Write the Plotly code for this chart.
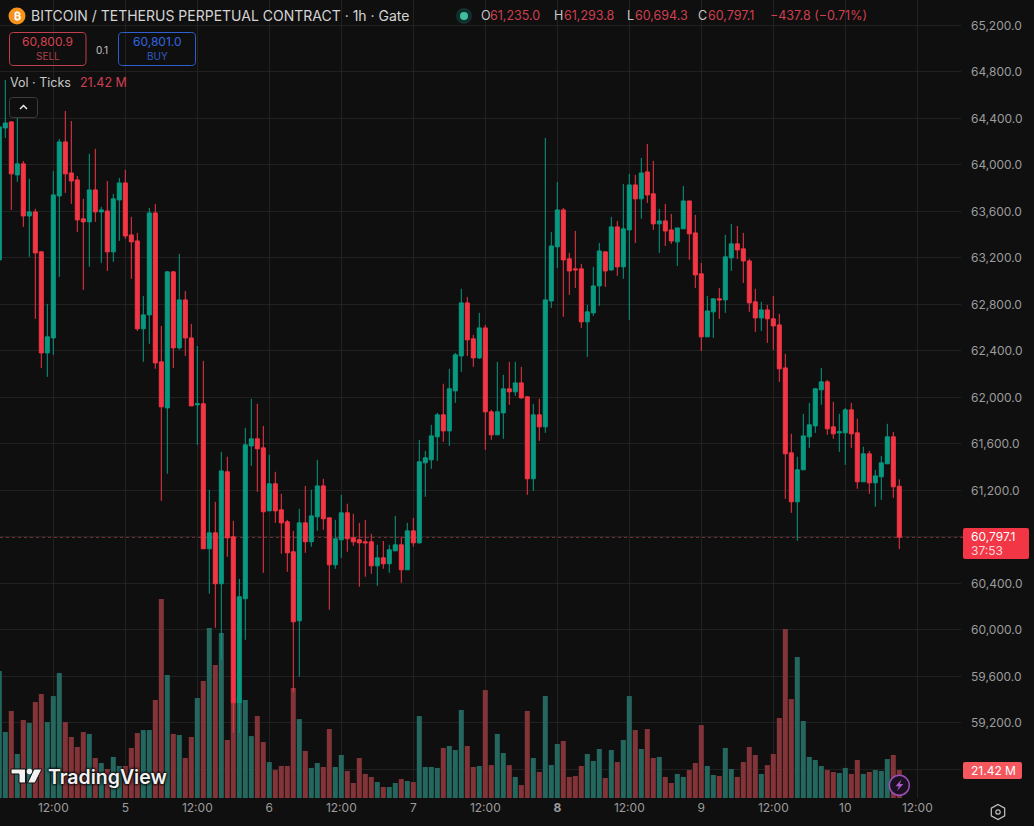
import pandas as pd
import plotly.graph_objects as go

# BTC/USDT perpetual, hourly candles
opens = [63182,64317,64369,63913,64008,63560,63595,63251,62382,62511,63732,64197,63930,63870,63535,63509,63784,63595,63603,63251,
         63698,63844,63397,63345,62589,62709,63586,62305,61909,63079,62425,62838,62511,61935,61944,60697,60834,60396,61359,60800,
         59372,60267,61582,61643,61565,61023,61256,61032,60929,60671,60077,60920,60757,60972,61238,60963,60559,60774,61006,60791,
         60774,60757,60757,60550,60619,60568,60679,60731,60516,60851,60748,61436,61462,61660,61849,61711,62055,62356,62812,62503,
         62339,62597,61875,61677,61866,62073,62047,62124,62004,61299,61849,61746,62829,63294,63612,63191,63105,63105,62649,62726,
         62958,63251,63096,63466,63122,63440,63827,63707,63939,63750,63492,63517,63440,63337,63449,63689,63414,63062,62520,62735,
         62847,62838,63199,63320,63277,63173,62821,62683,62752,62675,62623,62253,61522,61101,61376,61660,61754,62064,62133,61746,
         61694,61694,61892,61694,61273,61514,61264,61316,61428,61660,61235]
highs = [64343,64730,64377,64446,64033,63879,63621,63259,62804,63947,64223,64463,64377,63904,63707,64094,64137,63638,63861,63750,
         63887,63956,63552,63414,62872,63629,63664,62614,63087,63087,63234,62915,62632,62442,62313,61204,61101,61531,61488,60937,
         60439,61737,61987,61944,61754,61505,61359,61170,60946,60851,61041,61238,61204,61462,61299,60963,60946,61161,61084,60998,
         60920,60946,60826,60731,60765,60731,60980,60800,60920,60963,61634,61539,61763,61866,62116,62245,62382,62933,62864,62537,
         62726,62623,61892,62305,62193,62305,62305,62262,62012,61944,61987,64231,63423,63853,63629,63242,63431,63148,62795,63122,
         63328,63251,63552,63517,63836,63922,63913,64059,64180,64033,63621,63664,63578,63457,63818,63689,63569,63156,62872,62847,
         62941,63397,63492,63474,63414,63191,62933,62821,62795,62872,62718,62374,61686,61488,61858,61952,62081,62253,62150,61961,
         61858,61909,61952,61815,61574,61539,61376,61496,61772,61703,61293.8]
lows = [63182,64231,63612,63853,63466,63208,62675,62253,62176,62365,63036,63758,63664,63423,62924,63122,63509,63156,63087,63165,
        63345,63363,63019,62571,62305,62460,62245,61109,61342,62253,62408,62356,61926,61591,60697,60310,60017,59742,60628,59114,
        59114,59914,61410,61187,60490,61023,60920,60654,60499,59467,59596,60662,60714,60851,60860,60172,60525,60619,60671,60722,
        60370,60456,60482,60378,60525,60490,60679,60404,60516,60714,60740,61144,61385,61453,61617,61582,61952,62219,62356,62262,
        62331,61548,61634,61677,61643,61935,62012,61987,61161,61195,61625,61694,62769,63113,62692,62881,62941,62597,62348,62700,
        62786,62950,63087,63044,63019,62666,63328,63535,63672,63440,63242,63302,63320,63130,63449,63182,62941,62399,62520,62511,
        62675,62726,63087,63191,62984,62735,62563,62571,62468,62408,62133,61127,61006,60765,61376,61565,61694,61935,61677,61643,
        61531,61419,61565,61213,61273,61170,61058,61118,61428,61135,60694.3]
closes = [64326,64360,63922,64008,63560,63595,63242,62382,62520,63741,64197,63922,63861,63526,63509,63784,63595,63612,63251,63707,
          63844,63388,63337,62589,62709,63586,62296,61918,63079,62425,62838,62511,61926,61944,60697,60834,60396,61367,60791,59372,
          60284,61591,61643,61557,61015,61256,61023,60920,60662,60069,60920,60757,60980,61238,60955,60559,60783,61006,60783,60757,
          60748,60748,60550,60619,60568,60688,60731,60516,60851,60748,61445,61479,61668,61849,61711,62073,62365,62812,62494,62339,
          62597,61875,61677,61875,62073,62047,62124,61995,61299,61849,61746,62838,63302,63612,63182,63087,63096,62649,62735,62958,
          63259,63087,63466,63122,63449,63827,63707,63930,63741,63492,63517,63431,63345,63457,63689,63406,63053,62520,62743,62847,
          62838,63208,63320,63268,63173,62812,62683,62752,62675,62614,62245,61514,61101,61376,61668,61763,62073,62133,61729,61686,
          61703,61892,61686,61273,61514,61264,61324,61436,61660,61230,60797.1]
volumes_m = [97.2,50.5,66.6,33.7,59.7,57.4,73.4,79.6,58.1,78.0,95.6,58.1,46.7,39.0,50.5,49.0,30.6,26.8,22.2,31.4,
             24.5,24.5,38.3,49.7,52.0,52.0,75.0,152.2,94.1,49.0,48.2,30.6,46.7,76.5,89.5,130.1,101.7,126.2,44.4,72.7,
             76.5,75.0,47.4,62.7,42.8,27.5,21.4,24.5,24.5,84.2,60.4,36.0,23.0,26.8,23.7,52.8,23.7,
             32.9,20.7,11.5,30.6,18.4,16.1,12.2,8.4,8.4,11.5,14.5,13.0,12.2,62.7,23.7,23.7,23.0,38.3,39.8,36.7,67.3,39.8,23.7,24.5,
             82.6,25.2,49.0,34.4,25.2,16.1,9.9,66.6,30.6,19.9,78.0,25.2,41.3,43.6,16.1,16.8,24.5,33.7,28.3,37.5,15.3,36.7,27.5,44.4,
             78.0,52.0,37.5,52.8,30.6,31.4,16.1,11.5,18.4,
             16.1,21.4,26.8,55.8,24.5,17.6,16.8,38.3,22.2,16.1,27.5,39.0,32.9,18.4,25.2,33.7,61.2,129.3,75.7,107.9,58.9,31.4,29.1,
             24.5,21.4,19.9,19.1,23.0,18.4,29.1,18.4,19.9,21.4,20.7,29.8,32.9,21.42]

time_ticks = ["2024-10-04 12:00", "2024-10-05 00:00", "2024-10-05 12:00", "2024-10-06 00:00", "2024-10-06 12:00",
              "2024-10-07 00:00", "2024-10-07 12:00", "2024-10-08 00:00", "2024-10-08 12:00", "2024-10-09 00:00",
              "2024-10-09 12:00", "2024-10-10 00:00", "2024-10-10 12:00"]
time_labels = ["12:00", "5", "12:00", "6", "12:00", "7", "12:00", "<b>8</b>", "12:00", "9", "12:00", "10", "12:00"]
price_ticks = [58800 + 400 * i for i in range(17)]
hidden_price_ticks = {58800, 60800}

WIDTH, HEIGHT = 1034, 826
PANE_RIGHT, PANE_BOTTOM = 961, 798
HOUR_PX = 6.0
NOON_PX = 53.3
PX_PER_PRICE = 46.5 / 400
VOL_PX = 28 / 21.42

BG = "#0f0f0f"
GRID = "#212121"
UP, DOWN = "#089981", "#f23645"
UP_VOL, DOWN_VOL = "#24675e", "#823438"
AXIS_TEXT = "#9c9c9c"
LEGEND_RED = "#cf3f4f"
FONT = "Inter"

times = pd.date_range("2024-10-04 03:00", periods=len(closes), freq="h")
noon = pd.Timestamp("2024-10-04 12:00")


def fx(x):
    return x / WIDTH


def fy(y):
    return 1 - y / HEIGHT


def path(points, close=True):
    d = "M" + " L".join(f"{fx(x):.5f},{fy(y):.5f}" for x, y in points)
    return d + (" Z" if close else "")


def round_rect(x0, y0, x1, y1, r):
    p = lambda x, y: f"{fx(x):.5f},{fy(y):.5f}"
    return (f"M{p(x0 + r, y0)} L{p(x1 - r, y0)} Q{p(x1, y0)} {p(x1, y0 + r)} L{p(x1, y1 - r)} "
            f"Q{p(x1, y1)} {p(x1 - r, y1)} L{p(x0 + r, y1)} Q{p(x0, y1)} {p(x0, y1 - r)} "
            f"L{p(x0, y0 + r)} Q{p(x0, y0)} {p(x0 + r, y0)} Z")


def panel(x0, y0, x1, y1, r, line=None, fill=None, width=1):
    return dict(type="path", xref="paper", yref="paper", path=round_rect(x0, y0, x1, y1, r),
                line=dict(color=line or "rgba(0,0,0,0)", width=width if line else 0),
                fillcolor=fill or "rgba(0,0,0,0)", layer="above")


def disc(cx, cy, r, fill, line=None, width=1):
    return dict(type="circle", xref="paper", yref="paper",
                x0=fx(cx - r), x1=fx(cx + r), y0=fy(cy + r), y1=fy(cy - r),
                fillcolor=fill, line=dict(color=line or fill, width=width if line else 0), layer="above")


def poly(points, fill, line=None, width=0, close=True):
    return dict(type="path", xref="paper", yref="paper", path=path(points, close),
                fillcolor=fill if close else "rgba(0,0,0,0)",
                line=dict(color=line or "rgba(0,0,0,0)", width=width), layer="above")


def label(x, y, text, size=12, color="#d1d1d1", anchor="left", weight=None, shadow=None):
    font = dict(family=FONT, size=size, color=color)
    if weight:
        font["weight"] = weight
    if shadow:
        font["shadow"] = shadow
    return dict(xref="paper", yref="paper", x=fx(x), y=fy(y), text=text, showarrow=False,
                xanchor=anchor, yanchor="middle", font=font, borderpad=0, borderwidth=0)


fig = go.Figure()
fig.add_bar(
    x=times, y=volumes_m, yaxis="y", width=5 * 3600000 / HOUR_PX,
    marker=dict(color=[UP_VOL if c >= o else DOWN_VOL for o, c in zip(opens, closes)], line_width=0),
    showlegend=False, hoverinfo="skip",
)
fig.add_candlestick(
    x=times, open=opens, high=highs, low=lows, close=closes, yaxis="y2",
    increasing=dict(line=dict(color=UP, width=1), fillcolor=UP),
    decreasing=dict(line=dict(color=DOWN, width=1), fillcolor=DOWN),
    whiskerwidth=0, showlegend=False, hoverinfo="skip",
)

x_start = noon + pd.Timedelta(hours=(0 - NOON_PX) / HOUR_PX)
x_end = noon + pd.Timedelta(hours=(PANE_RIGHT - NOON_PX) / HOUR_PX)
price_top = 62000 + 397.3 / PX_PER_PRICE / 1
price_bottom = price_top - PANE_BOTTOM / PX_PER_PRICE

shapes = [
    # last-price line, behind the candles
    dict(type="line", xref="paper", yref="y2", x0=0, x1=fx(963), y0=closes[-1], y1=closes[-1],
         line=dict(color="#b5424e", width=1, dash="dot"), layer="below"),
    # trade buttons
    panel(9.5, 32.5, 86, 65.5, 4, line="#c23f4d"),
    panel(118.5, 32.5, 195.5, 65.5, 4, line="#2f5fd0"),
    # collapse button
    panel(9.5, 97.5, 37.5, 117.5, 3, line="#3b3b3b", fill=BG),
    poly([(20, 109), (23.5, 105.5), (27, 109)], "#ffffff", line="#e8e8e8", width=1.5, close=False),
    # symbol icon and market-status dot
    disc(17, 16, 8.5, "#f7931a"),
    disc(464, 16, 8, "#12302b"),
    disc(464, 16, 4, "#3fbf9f"),
    # TradingView mark
    poly([(11, 769), (25.5, 769), (25.5, 783), (19, 783), (19, 774), (11, 774)], "#f2f2f2", line=BG, width=1),
    disc(29.5, 771.5, 2.8, "#f2f2f2"),
    poly([(34, 769), (42, 769), (35, 783), (27.5, 783)], "#f2f2f2", line=BG, width=1),
    # price and volume axis flags
    panel(963, 528, 1029, 559, 2, fill="#f23645"),
    panel(963, 762, 1022, 779, 2, fill="#f4575d"),
    # replay badge
    disc(899.3, 785.3, 10, "#1b1020", line="#9a4fb8", width=1.5),
    poly([(901.5, 779.5), (895.5, 786.3), (899, 786.3), (897, 791), (903.3, 784), (899.8, 784)], "#a65cc8"),
    # settings hexagon
    poly([(998, 804.5), (1004.7, 808.2), (1004.7, 815.8), (998, 819.5), (991.3, 815.8), (991.3, 808.2)],
         "rgba(0,0,0,0)", line="#c4c4c4", width=1.2),
    dict(type="circle", xref="paper", yref="paper", x0=fx(995.8), x1=fx(1000.2), y0=fy(814.2), y1=fy(809.8),
         line=dict(color="#c4c4c4", width=1.2), fillcolor="rgba(0,0,0,0)", layer="above"),
]

halo = "0 0 2px #0f0f0f, 0 0 2px #0f0f0f, 0 0 3px #0f0f0f, 0 0 3px #0f0f0f"
annotations = [
    label(17, 16, "₿", 11, "#ffffff", "center", weight=700),
    label(31, 16, "BITCOIN / TETHERUS PERPETUAL CONTRACT · 1h · Gate", 14, "#d4d4d4"),
    label(481, 16, "O", 12.5, "#c8c8c8"), label(490, 16, "61,235.0", 12.5, LEGEND_RED),
    label(554, 16, "H", 12.5, "#c8c8c8"), label(564, 16, "61,293.8", 12.5, LEGEND_RED),
    label(627, 16, "L", 12.5, "#c8c8c8"), label(635, 16, "60,694.3", 12.5, LEGEND_RED),
    label(698, 16, "C", 12.5, "#c8c8c8"), label(708, 16, "60,797.1", 12.5, LEGEND_RED),
    label(770, 16, "−437.8 (−0.71%)", 12.5, LEGEND_RED),
    label(47.5, 42, "60,800.9", 12, "#d8424f", "center"),
    label(47.5, 56, "SELL", 10, "#b5404c", "center"),
    label(102, 49.5, "0.1", 10, "#c4c4c4", "center"),
    label(157, 42, "60,801.0", 12, "#3166e0", "center"),
    label(157, 56, "BUY", 10, "#2f5cc4", "center"),
    label(10, 82.5, "Vol · Ticks", 12.5, "#c8c8c8"),
    label(80, 82.5, "21.42 M", 12.5, LEGEND_RED),
    label(48, 777, "TradingView", 19.5, "#f2f2f2", weight=600, shadow=halo),
    label(971, 536, "60,797.1", 12, "#ffffff"),
    label(971, 550, "37:53", 12, "#ffd4d8"),
    label(971, 770.5, "21.42 M", 12, "#ffffff"),
]

fig.update_layout(
    width=WIDTH, height=HEIGHT, margin=dict(l=0, r=0, t=0, b=0), autosize=False,
    paper_bgcolor=BG, plot_bgcolor=BG, showlegend=False, hovermode=False,
    boxmode="overlay", boxgap=0.33, boxgroupgap=0, barmode="overlay",
    font=dict(family=FONT, color=AXIS_TEXT, size=12),
    shapes=shapes, annotations=annotations,
    xaxis=dict(
        domain=[0, PANE_RIGHT / WIDTH], range=[x_start, x_end], type="date", anchor="y",
        tickmode="array", tickvals=time_ticks, ticktext=time_labels, tickangle=0,
        showgrid=True, gridcolor=GRID, gridwidth=1, showline=False, zeroline=False,
        ticks="", ticklabelstandoff=1, tickfont=dict(family=FONT, size=12, color=AXIS_TEXT),
        rangeslider=dict(visible=False), fixedrange=True,
    ),
    yaxis=dict(
        domain=[(HEIGHT - PANE_BOTTOM) / HEIGHT, 1], range=[0, PANE_BOTTOM / VOL_PX], visible=False,
        showgrid=False, zeroline=False, fixedrange=True,
    ),
    yaxis2=dict(
        overlaying="y", side="right", anchor="x", range=[price_bottom, price_top],
        tickmode="array", tickvals=price_ticks,
        ticktext=["" if t in hidden_price_ticks else f"{t:,.1f}" for t in price_ticks],
        showgrid=True, gridcolor=GRID, gridwidth=1, showline=False, zeroline=False,
        ticks="", ticklabelstandoff=9, tickfont=dict(family=FONT, size=12, color=AXIS_TEXT),
        fixedrange=True,
    ),
)

fig.write_html("out.html", config={"displayModeBar": False})
